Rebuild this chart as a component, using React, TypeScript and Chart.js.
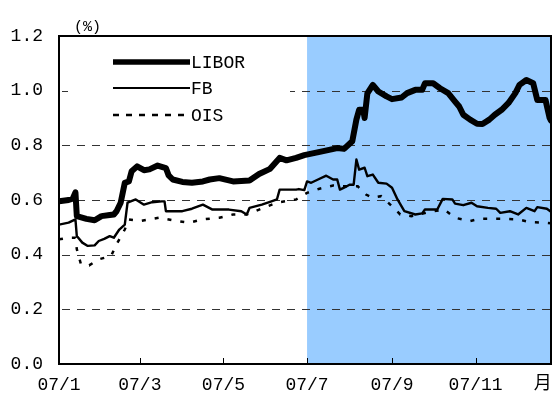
import React, { useEffect, useRef } from 'react';
import { Chart, registerables } from 'chart.js';

Chart.register(...registerables);

// Days counted from 2007-01-01
const liborDays = [0, 7, 10, 12, 13, 20, 26, 31, 37, 40, 42, 45, 48, 51, 53, 57, 62, 66, 72, 78, 80, 83, 90, 97, 105, 110, 117, 127, 139, 146, 154, 161, 166, 173, 179, 192, 203, 208, 214, 217, 219, 222, 223, 225, 229, 233, 239, 243, 250, 254, 260, 265, 267, 273, 278, 284, 289, 292, 295, 300, 305, 309, 314, 318, 323, 328, 333, 336, 341, 346, 349, 355, 358, 359];
const liborVals = [0.595, 0.6, 0.605, 0.628, 0.541, 0.531, 0.526, 0.541, 0.545, 0.547, 0.559, 0.59, 0.663, 0.668, 0.705, 0.723, 0.709, 0.712, 0.726, 0.717, 0.69, 0.675, 0.666, 0.663, 0.668, 0.675, 0.68, 0.668, 0.671, 0.695, 0.714, 0.754, 0.745, 0.754, 0.764, 0.778, 0.79, 0.787, 0.815, 0.894, 0.93, 0.93, 0.9, 0.99, 1.021, 0.997, 0.979, 0.969, 0.975, 0.991, 1.003, 1.003, 1.027, 1.027, 1.009, 0.991, 0.96, 0.942, 0.912, 0.894, 0.879, 0.878, 0.894, 0.912, 0.93, 0.955, 0.991, 1.021, 1.039, 1.027, 0.966, 0.966, 0.9, 0.89];

const fbDays = [0, 7, 12, 13, 17, 21, 26, 29, 33, 37, 40, 44, 48, 50, 56, 62, 68, 75, 77, 78, 90, 97, 105, 112, 124, 133, 137, 139, 148, 155, 159, 161, 173, 175, 179, 181, 184, 189, 195, 200, 203, 205, 208, 212, 215, 217, 219, 223, 225, 229, 233, 239, 243, 247, 252, 260, 265, 267, 273, 276, 280, 287, 289, 295, 301, 305, 313, 319, 322, 329, 335, 341, 347, 349, 356, 359];
const fbVals = [0.51, 0.517, 0.529, 0.468, 0.444, 0.432, 0.434, 0.45, 0.458, 0.468, 0.462, 0.492, 0.51, 0.59, 0.602, 0.583, 0.592, 0.595, 0.595, 0.559, 0.559, 0.568, 0.583, 0.565, 0.565, 0.559, 0.547, 0.571, 0.583, 0.595, 0.602, 0.638, 0.638, 0.64, 0.636, 0.668, 0.663, 0.675, 0.689, 0.675, 0.675, 0.638, 0.645, 0.656, 0.656, 0.748, 0.711, 0.718, 0.687, 0.693, 0.663, 0.66, 0.645, 0.602, 0.559, 0.547, 0.551, 0.565, 0.565, 0.565, 0.604, 0.602, 0.587, 0.581, 0.59, 0.577, 0.571, 0.568, 0.553, 0.559, 0.547, 0.571, 0.559, 0.574, 0.568, 0.557];

const oisDays = [0, 7, 12, 13, 16, 22, 29, 38, 42, 48, 51, 59, 73, 86, 95, 105, 117, 127, 137, 146, 159, 173, 181, 190, 200, 208, 218, 224, 229, 235, 243, 249, 257, 273, 281, 289, 300, 307, 316, 324, 335, 344, 355, 359];
const oisVals = [0.456, 0.462, 0.462, 0.42, 0.365, 0.361, 0.383, 0.395, 0.438, 0.492, 0.529, 0.523, 0.535, 0.523, 0.517, 0.529, 0.535, 0.547, 0.547, 0.565, 0.59, 0.602, 0.626, 0.641, 0.653, 0.65, 0.65, 0.62, 0.608, 0.614, 0.577, 0.547, 0.541, 0.559, 0.565, 0.535, 0.523, 0.531, 0.531, 0.531, 0.529, 0.519, 0.517, 0.515];

const seriesNames = ['LIBOR', 'FB', 'OIS'];
const tickDays = [0, 59, 120, 181, 243, 304];
const tickLabels = ['07/1', '07/3', '07/5', '07/7', '07/9', '07/11'];
const unitLabelDay = 353;
const unitLabel = '月';
const yUnitLabel = '(%)';
const shadeStartDay = 181;
const gridValues = [0.2, 0.4, 0.6, 0.8, 1.0];

const FONT = '"Liberation Mono", "Noto Sans CJK JP", monospace';

const toPoints = (days: number[], vals: number[]) => days.map((d, i) => ({ x: d, y: vals[i] }));

const decor = {
  id: 'decor',
  beforeDatasetsDraw(chart: any) {
    const { ctx, chartArea: a, scales } = chart;
    const x = scales.x;
    const y = scales.y;
    ctx.save();
    const sx = x.getPixelForValue(shadeStartDay);
    ctx.fillStyle = '#99CCFF';
    ctx.fillRect(sx, a.top, a.right - sx, a.bottom - a.top);
    ctx.strokeStyle = '#333333';
    ctx.lineWidth = 1;
    ctx.setLineDash([8, 7]);
    for (const v of gridValues) {
      const py = Math.round(y.getPixelForValue(v)) + 0.5;
      ctx.beginPath();
      ctx.moveTo(a.left + 3, py);
      ctx.lineTo(a.right, py);
      ctx.stroke();
    }
    ctx.setLineDash([]);
    // legend box
    ctx.fillStyle = '#ffffff';
    ctx.fillRect(a.left + 9, a.top + 6, 222, 88);
    const lx0 = a.left + 54;
    const lx1 = a.left + 131;
    const rows = [a.top + 26, a.top + 52, a.top + 79];
    ctx.strokeStyle = '#000';
    ctx.lineCap = 'butt';
    ctx.lineWidth = 5.5;
    ctx.beginPath(); ctx.moveTo(lx0, rows[0]); ctx.lineTo(lx1, rows[0]); ctx.stroke();
    ctx.lineWidth = 2.2;
    ctx.beginPath(); ctx.moveTo(lx0, rows[1]); ctx.lineTo(lx1, rows[1]); ctx.stroke();
    ctx.lineWidth = 2.5;
    ctx.setLineDash([6, 7]);
    ctx.beginPath(); ctx.moveTo(lx0, rows[2]); ctx.lineTo(lx1 - 2, rows[2]); ctx.stroke();
    ctx.setLineDash([]);
    ctx.fillStyle = '#000';
    ctx.font = '18px ' + FONT;
    ctx.textAlign = 'left';
    ctx.textBaseline = 'middle';
    seriesNames.forEach((n, i) => ctx.fillText(n, lx1 + 1, rows[i] + 1));
    ctx.restore();
  },
  afterDatasetsDraw(chart: any) {
    const { ctx, chartArea: a, scales } = chart;
    const x = scales.x;
    ctx.save();
    ctx.strokeStyle = '#000';
    ctx.lineWidth = 1;
    for (const d of tickDays) {
      if (d === 0) continue;
      const px = Math.round(x.getPixelForValue(d)) + 0.5;
      ctx.beginPath();
      ctx.moveTo(px, a.bottom);
      ctx.lineTo(px, a.bottom - 6);
      ctx.stroke();
    }
    ctx.lineWidth = 2;
    ctx.strokeRect(a.left, a.top, a.right - a.left, a.bottom - a.top);
    ctx.fillStyle = '#000';
    ctx.font = '15px ' + FONT;
    ctx.textAlign = 'left';
    ctx.textBaseline = 'middle';
    ctx.fillText(yUnitLabel, a.left + 15, a.top - 9);
    ctx.font = '18px ' + FONT;
    ctx.textAlign = 'center';
    ctx.fillText(unitLabel, x.getPixelForValue(unitLabelDay), a.bottom + 20);
    ctx.restore();
  },
};

export default function App() {
  const ref = useRef<HTMLCanvasElement | null>(null);
  useEffect(() => {
    document.body.style.margin = '0';
    const canvas = ref.current;
    if (!canvas) return;
    const chart = new Chart(canvas, {
      type: 'line',
      data: {
        datasets: [
          {
            label: seriesNames[0],
            data: toPoints(liborDays, liborVals),
            borderColor: '#000',
            borderWidth: 6,
            pointRadius: 0,
            tension: 0,
            borderJoinStyle: 'round',
            borderCapStyle: 'round',
          },
          {
            label: seriesNames[1],
            data: toPoints(fbDays, fbVals),
            borderColor: '#000',
            borderWidth: 2.4,
            pointRadius: 0,
            tension: 0,
            borderJoinStyle: 'round',
          },
          {
            label: seriesNames[2],
            data: toPoints(oisDays, oisVals),
            borderColor: '#000',
            borderWidth: 2.5,
            borderDash: [4, 9],
            pointRadius: 0,
            tension: 0,
          },
        ],
      },
      options: {
        responsive: false,
        animation: false,
        layout: { padding: { top: 36, right: 5, left: 0, bottom: 0 } },
        plugins: { legend: { display: false }, tooltip: { enabled: false } },
        scales: {
          x: {
            type: 'linear',
            min: 0,
            max: 359,
            grid: { display: false, drawTicks: false },
            border: { display: false },
            afterFit: (s: any) => { s.height = 37; },
            afterBuildTicks: (s: any) => { s.ticks = tickDays.map((v) => ({ value: v })); },
            ticks: {
              autoSkip: false,
              maxRotation: 0,
              padding: 10,
              color: '#000',
              font: { family: FONT, size: 18 },
              callback: (v: any) => {
                const i = tickDays.indexOf(Number(v));
                return i >= 0 ? tickLabels[i] : '';
              },
            },
          },
          y: {
            min: 0,
            max: 1.2,
            grid: { display: false, drawTicks: false },
            border: { display: false },
            afterFit: (s: any) => { s.width = 59; },
            ticks: {
              stepSize: 0.2,
              padding: 16,
              color: '#000',
              font: { family: FONT, size: 18 },
              callback: (v: any) => Number(v).toFixed(1),
            },
          },
        },
      },
      plugins: [decor],
    });
    return () => chart.destroy();
  }, []);
  return (
    <div style={{ width: 556, height: 401 }}>
      <canvas ref={ref} width={556} height={401} />
    </div>
  );
}
